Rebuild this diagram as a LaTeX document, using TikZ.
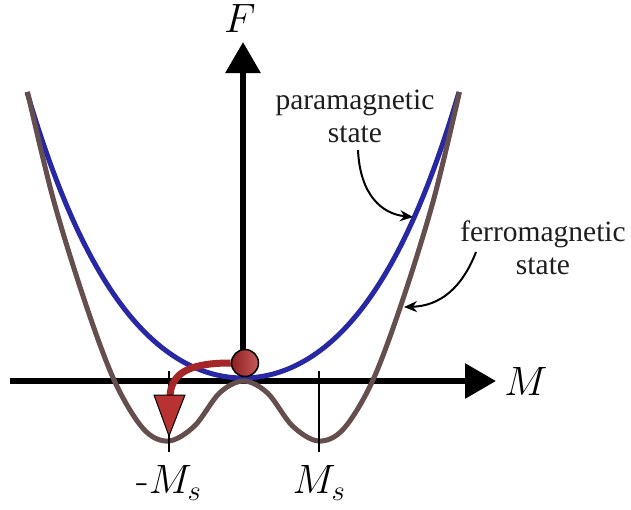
\RequirePackage{fix-cm}
\documentclass[tikz,border=0pt]{standalone}
\usepackage[no-math]{fontspec}
\newfontfamily\labelfont{Liberation Serif}
\usetikzlibrary{arrows.meta}
\definecolor{pblue}{RGB}{40,40,165}
\definecolor{fbrown}{RGB}{100,78,78}
\definecolor{bred}{RGB}{165,38,38}
\definecolor{tred}{RGB}{185,50,50}
\definecolor{txt}{RGB}{30,30,30}
\tikzset{
  axisline/.style={line width=6pt, -{Triangle[length=31pt,width=34pt]}},
  curveline/.style={line width=5pt},
  tickline/.style={line width=2pt},
  annot/.style={line width=2pt, -{Stealth[length=13pt,width=11pt]}},
  lbl/.style={font=\labelfont\fontsize{29.5}{33}\selectfont, text=txt, align=center, inner sep=0pt},
  mlbl/.style={font=\fontsize{41}{45}\selectfont, inner sep=0pt}
}
\begin{document}
\begin{tikzpicture}[x=1pt,y=-1pt]
\useasboundingbox (0,0) rectangle (631,509);
% axes
\coordinate (xs) at (10,381);
\coordinate (xe) at (496,381);
\coordinate (ys) at (243,381);
\coordinate (ye) at (243,42);
\draw[axisline] (xs) -- (xe);
\draw[axisline] (ys) -- (ye);
% paramagnetic curve
\draw[pblue, curveline] plot[domain=-216:216, samples=120]
  ({243+\x},{378-(43.89*(\x/100)^2+3.73*(\x/100)^4)});
% ferromagnetic curve
\draw[fbrown, curveline] plot[smooth, tension=0.55] coordinates {
  (27.5,92) (53.5,200) (85,302) (114.5,381) (143.5,429) (168.5,441)
  (194.5,426) (219.5,393) (243.5,381) (267.5,393) (292.5,426) (318.5,441)
  (343.5,429) (372.5,381) (402,302) (433.5,200) (459.5,92)};
% ticks
\coordinate (t1a) at (169,371); \coordinate (t1b) at (169,452);
\coordinate (t2a) at (319,371); \coordinate (t2b) at (319,452);
\draw[tickline] (t1a) -- (t1b);
\draw[tickline] (t2a) -- (t2b);
% ball and red arrow
\node[circle, minimum size=27pt, inner sep=0pt, draw=black, line width=1.5pt,
  left color=bred!85!black, right color=tred!80!white] (ball) at (245,363) {};
\coordinate (ra) at (170,398);
\draw[bred, line width=7pt] (ball.west) .. controls (195,363) and (170,370) .. (ra);
\coordinate (h1) at (154,395);
\coordinate (h2) at (185,395);
\coordinate (h3) at (169,436);
\filldraw[fill=tred, draw=black, line width=1pt] (h1) -- (h2) -- (h3) -- cycle;
% labels
\node[mlbl] (F) at (240,18) {$F$};
\node[mlbl] (M) at (526,381) {$M$};
\node[mlbl] (mMs) at (169,483) {-$M_s$};
\node[mlbl] (Ms) at (319,483) {$M_s$};
\node[lbl] (para) at (355,116) {paramagnetic\\state};
\node[lbl] (ferro) at (543,248) {ferromagnetic\\state};
% annotation arrows
\coordinate (pa) at (358,150);
\coordinate (pb) at (413,217);
\draw[annot] (pa) .. controls (360,195) and (382,214) .. (pb);
\coordinate (fa) at (476,252);
\coordinate (fb) at (404,307);
\draw[annot] (fa) .. controls (462,288) and (440,306) .. (fb);
\end{tikzpicture}
\end{document}
